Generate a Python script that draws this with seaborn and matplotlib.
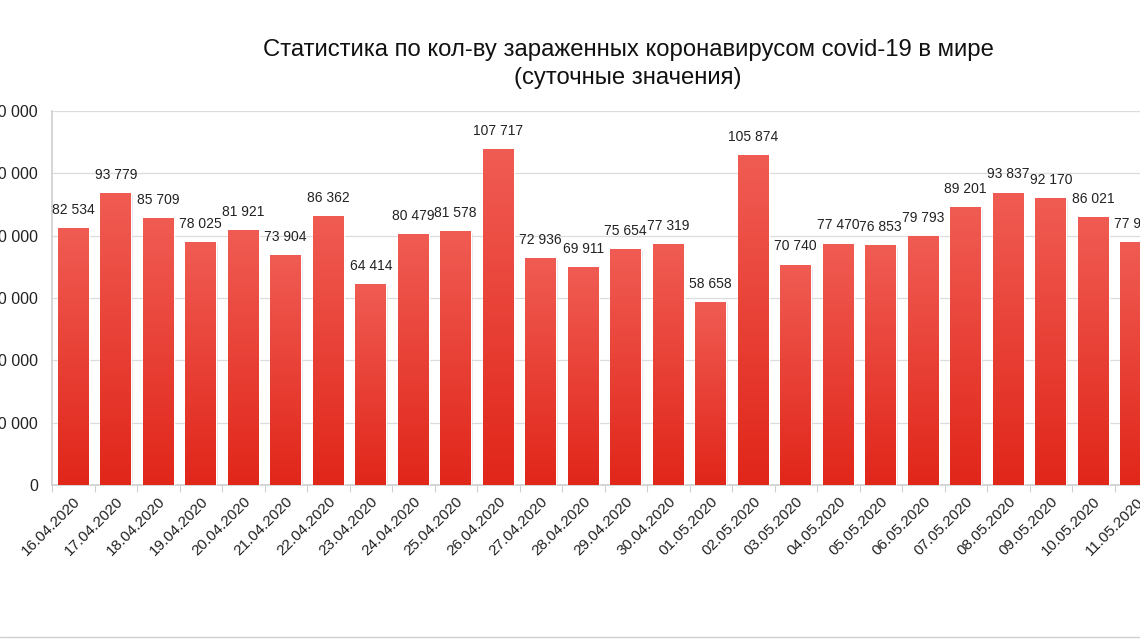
import numpy as np
import pandas as pd
import matplotlib
matplotlib.use("Agg")
import matplotlib.pyplot as plt
import seaborn as sns
from matplotlib.colors import LinearSegmentedColormap

dates = ["16.04.2020", "17.04.2020", "18.04.2020", "19.04.2020", "20.04.2020",
         "21.04.2020", "22.04.2020", "23.04.2020", "24.04.2020", "25.04.2020",
         "26.04.2020", "27.04.2020", "28.04.2020", "29.04.2020", "30.04.2020",
         "01.05.2020", "02.05.2020", "03.05.2020", "04.05.2020", "05.05.2020",
         "06.05.2020", "07.05.2020", "08.05.2020", "09.05.2020", "10.05.2020",
         "11.05.2020"]
cases = [82534, 93779, 85709, 78025, 81921, 73904, 86362, 64414, 80479, 81578,
         107717, 72936, 69911, 75654, 77319, 58658, 105874, 70740, 77470, 76853,
         79793, 89201, 93837, 92170, 86021, 77980]
yticks = [0, 20000, 40000, 60000, 80000, 100000, 120000]
title = "Статистика по кол-ву зараженных коронавирусом covid-19 в мире\n(суточные значения)"

sns.set_theme(style="white")
plt.rcParams['font.family'] = ['Liberation Sans', 'DejaVu Sans']

def fmt(v):
    return f"{v:,}".replace(",", " ")

df = pd.DataFrame({"date": dates, "cases": cases})

fig = plt.figure(figsize=(11.4, 6.41), dpi=100)
ax = fig.add_axes([52/1140, (641-485)/641, 1 - 52/1140 + 0.01, (485-111)/641])

sns.barplot(data=df, x="date", y="cases", ax=ax, color="#ec3b2f", width=0.72,
            saturation=1, zorder=3)

xmax = 25.1 + 0.01 * 1140 / 42.5
ax.set_ylim(0, 120000)
ax.set_xlim(-0.5, xmax)
ax.set_yticks(yticks)
ax.set_yticklabels([fmt(v) for v in yticks], fontsize=11.5, color="#222222")
ax.tick_params(axis='y', length=0, pad=10)
ax.set_xticks(range(len(dates)))
ax.set_xticklabels(dates, rotation=45, ha='right', rotation_mode='anchor',
                   fontsize=11, color="#222222")
ax.tick_params(axis='x', length=0, pad=7)
ax.set_xticks(np.arange(-0.5, len(dates), 1), minor=True)
ax.tick_params(axis='x', which='minor', length=5, color="#d0d0d0", width=0.8, bottom=True)
ax.set_xlabel("")
ax.set_ylabel("")
ax.yaxis.grid(True, color="#dcdcdc", linewidth=0.9, zorder=0)
for s in ['top', 'right']:
    ax.spines[s].set_visible(False)
ax.spines['left'].set_color("#d0d0d0")
ax.spines['bottom'].set_color("#d0d0d0")

# gradient fill of bars
grad = np.linspace(0, 1, 256).reshape(-1, 1)
cmap = LinearSegmentedColormap.from_list("g", ["#e1261a", "#f05c53"])
for p in list(ax.patches):
    x0, y0 = p.get_x(), p.get_y()
    w, h = p.get_width(), p.get_height()
    sh = plt.Rectangle((x0 + 0.04, y0), w, h - 600, color="#bbbbbb", alpha=0.35,
                       zorder=2, linewidth=0)
    ax.add_patch(sh)
    im = ax.imshow(grad, extent=[x0, x0 + w, y0, y0 + h], origin='lower',
                   aspect='auto', cmap=cmap, zorder=3.5)
    im.set_clip_path(p)
ax.set_xlim(-0.5, xmax)
ax.set_ylim(0, 120000)

for i, v in enumerate(cases):
    ax.annotate(fmt(v), (i, v), xytext=(0, 8), textcoords='offset points',
                ha='center', va='bottom', fontsize=10, color="#222222", zorder=5)

fig.text(0.551, 1 - 64/641, title, ha='center', va='center',
         fontsize=17.2, color="#111111", linespacing=1.4)

fig.add_artist(plt.Line2D([0, 1], [4/641, 4/641], color="#d0d0d0", linewidth=1))

fig.savefig("out.png", dpi=100)
